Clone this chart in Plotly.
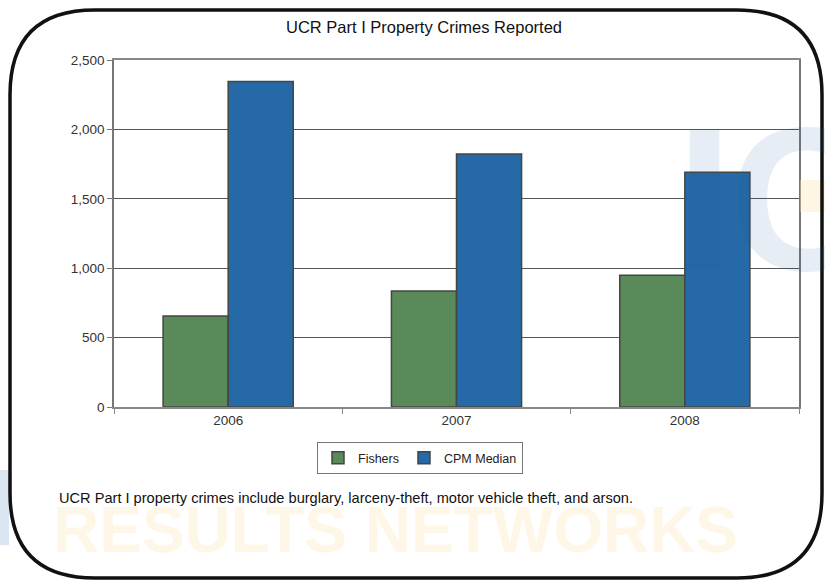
import plotly.graph_objects as go

years = ["2006", "2007", "2008"]
fishers = [655, 835, 950]
cpm_median = [2345, 1822, 1692]

y_ticks = [0, 500, 1000, 1500, 2000, 2500]
y_labels = ["0", "500", "1,000", "1,500", "2,000", "2,500"]

W, H = 825, 581
L, R, T, B = 114, 26, 60, 174
PW, PH = W - L - R, H - T - B


def px(x, y):
    # pixel -> paper coordinates
    return (x - L) / PW, (H - B - y) / PH


def border_path(x0, y0, x1, y1, r):
    pts = [
        ("M", [(x0 + r, y0)]),
        ("L", [(x1 - r, y0)]),
        ("Q", [(x1, y0), (x1, y0 + r)]),
        ("L", [(x1, y1 - r)]),
        ("Q", [(x1, y1), (x1 - r, y1)]),
        ("L", [(x0 + r, y1)]),
        ("Q", [(x0, y1), (x0, y1 - r)]),
        ("L", [(x0, y0 + r)]),
        ("Q", [(x0, y0), (x0 + r, y0)]),
    ]
    out = []
    for cmd, p in pts:
        coords = " ".join("%.5f,%.5f" % px(a, b) for a, b in p)
        out.append(cmd + " " + coords)
    return " ".join(out) + " Z"


fig = go.Figure()
fig.add_trace(go.Bar(
    x=years, y=fishers, name="Fishers",
    marker=dict(color="#5a8a5a", line=dict(color="#454545", width=1.5)),
))
fig.add_trace(go.Bar(
    x=years, y=cpm_median, name="CPM Median",
    marker=dict(color="#256aa6", line=dict(color="#454545", width=1.5)),
))

fig.update_layout(
    width=W, height=H,
    margin=dict(l=L, r=R, t=T, b=B),
    paper_bgcolor="white", plot_bgcolor="white",
    font=dict(family="Liberation Sans, Arial, sans-serif", size=13, color="#333333"),
    barmode="group", bargap=0.43, bargroupgap=0,
    title=dict(text="UCR Part I Property Crimes Reported", x=px(424, 0)[0],
               xref="paper", xanchor="center",
               y=1 - 27 / H, yanchor="middle",
               font=dict(size=16.5, color="#111111")),
    xaxis=dict(
        showgrid=False, showline=True, linecolor="#888888", linewidth=1.5,
        mirror=True, tickson="boundaries", ticks="outside", ticklen=5,
        tickcolor="#888888", tickfont=dict(size=13.5, color="#333333"),
    ),
    yaxis=dict(
        range=[0, 2500], tickvals=y_ticks, ticktext=y_labels,
        showgrid=True, gridcolor="#555555", gridwidth=1,
        showline=True, linecolor="#777777", linewidth=1.5, mirror=True,
        ticks="outside", ticklen=5, tickcolor="#777777",
        tickfont=dict(size=13.5, color="#333333"), zeroline=False,
    ),
    legend=dict(
        orientation="h", x=px(420, 0)[0], xanchor="center",
        y=px(0, 458)[1], yanchor="middle",
        bordercolor="#777777", borderwidth=1,
        font=dict(size=12.5, color="#222222"),
        itemwidth=30, traceorder="normal",
    ),
    showlegend=True,
)

# watermarks
fig.add_annotation(
    text="<b>RESULTS NETWORKS</b>", xref="paper", yref="paper",
    x=px(395, 0)[0], y=px(0, 530)[1], xanchor="center", yanchor="middle",
    showarrow=False,
    font=dict(size=64, color="rgba(253,225,170,0.28)",
              family="Liberation Sans, sans-serif"),
)
for letter, lx in [("I", 674), ("C", 727)]:
    fig.add_annotation(
        text="<b>%s</b>" % letter, xref="paper", yref="paper",
        x=px(lx, 0)[0], y=px(0, 198)[1], xanchor="left", yanchor="middle",
        showarrow=False,
        font=dict(size=205, color="rgba(30,90,160,0.11)",
                  family="Liberation Sans, sans-serif"),
    )
fig.add_shape(
    type="rect", xref="paper", yref="paper",
    x0=px(800, 0)[0], x1=px(825, 0)[0], y0=px(0, 212)[1], y1=px(0, 180)[1],
    fillcolor="rgba(253,225,175,0.35)", line=dict(width=0), layer="above",
)
fig.add_shape(
    type="rect", xref="paper", yref="paper",
    x0=px(0, 0)[0], x1=px(9, 0)[0], y0=px(0, 545)[1], y1=px(0, 470)[1],
    fillcolor="rgba(205,218,236,0.7)", line=dict(width=0), layer="above",
)

# footnote
fig.add_annotation(
    text="UCR Part I property crimes include burglary, larceny-theft, motor vehicle theft, and arson.",
    xref="paper", yref="paper", x=px(57, 0)[0], y=px(0, 498)[1],
    xanchor="left", yanchor="middle", showarrow=False,
    font=dict(size=14.6, color="#111111"),
)

# rounded frame
fig.add_shape(
    type="path", xref="paper", yref="paper",
    path=border_path(10, 10, 822, 578, 85),
    line=dict(color="#111111", width=3.5), layer="above",
)

fig.write_html("out.html", config={"displayModeBar": False},
               post_script="document.body.style.margin='0';")
